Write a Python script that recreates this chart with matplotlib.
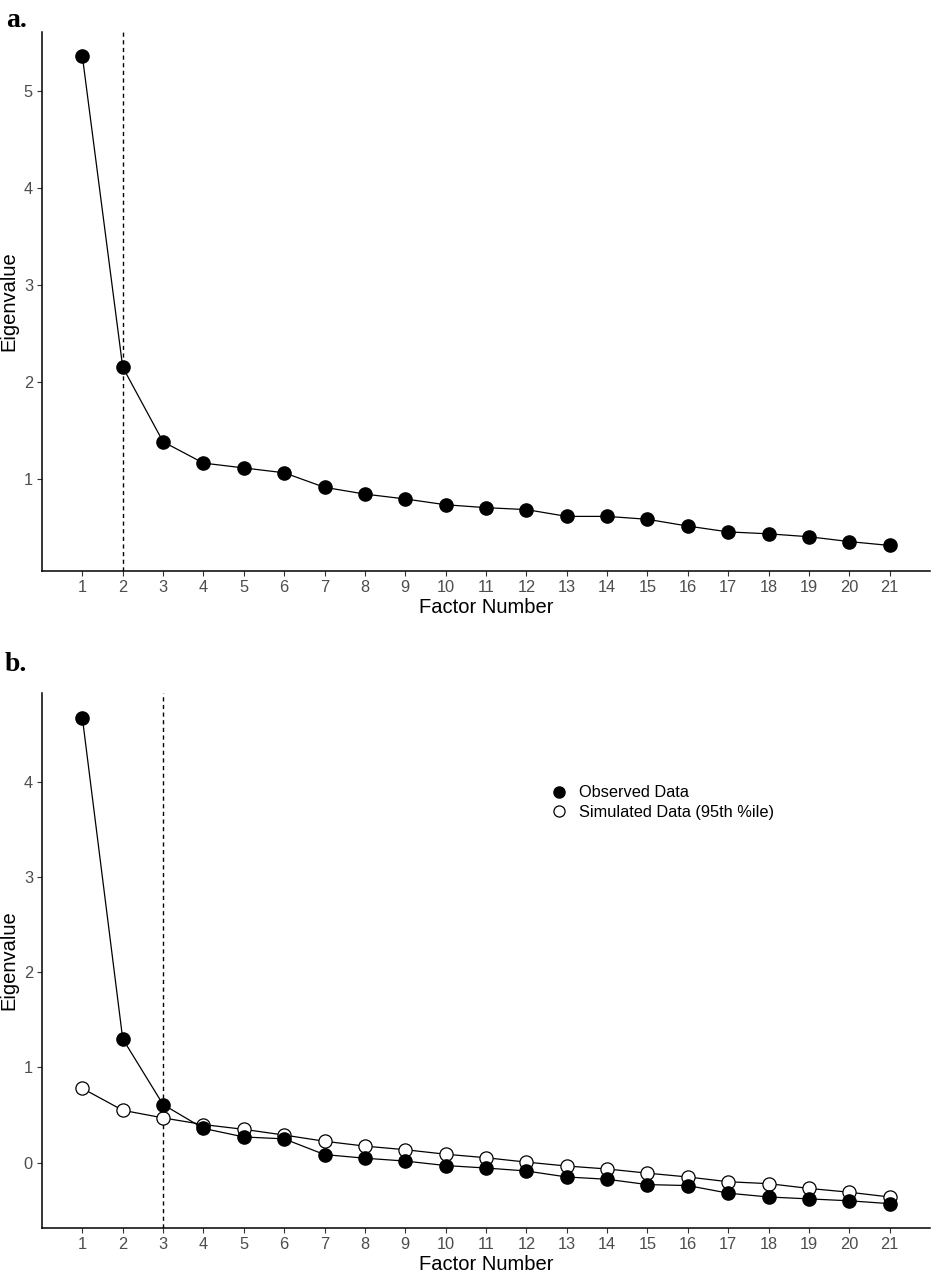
import numpy as np
import matplotlib.pyplot as plt
from matplotlib.lines import Line2D

plt.rcParams['font.family'] = ['Liberation Sans', 'DejaVu Sans']

# ---- data ----
factors = list(range(1, 22))

# panel a: eigenvalues (single series)
eig_a = [5.36, 2.15, 1.38, 1.16, 1.11, 1.06, 0.91, 0.84, 0.79, 0.73, 0.70,
         0.68, 0.61, 0.61, 0.58, 0.51, 0.45, 0.43, 0.40, 0.35, 0.31]
cut_a = 2

# panel b: parallel analysis
observed_b = [4.67, 1.30, 0.61, 0.36, 0.27, 0.25, 0.085, 0.047, 0.017, -0.03,
              -0.056, -0.087, -0.15, -0.174, -0.23, -0.24, -0.32, -0.36, -0.38,
              -0.40, -0.43]
simulated_b = [0.78, 0.55, 0.47, 0.40, 0.35, 0.29, 0.225, 0.174, 0.136, 0.089,
               0.052, 0.006, -0.035, -0.066, -0.11, -0.15, -0.20, -0.22, -0.27,
               -0.31, -0.36]
cut_b = 3

legend_labels = ["Observed Data", "Simulated Data (95th %ile)"]

tick_col = "#4D4D4D"


def style_axes(ax, ylim, yticks):
    ax.set_xlim(0, 22)
    ax.set_ylim(*ylim)
    ax.set_xticks(factors)
    ax.set_yticks(yticks)
    for s in ["top", "right"]:
        ax.spines[s].set_visible(False)
    for s in ["left", "bottom"]:
        ax.spines[s].set_linewidth(1.1)
        ax.spines[s].set_color("black")
    ax.tick_params(axis="both", length=3.5, width=0.8, color="#333333",
                   labelcolor=tick_col, labelsize=11.8, pad=3)
    ax.set_xlabel("Factor Number", fontsize=14.5, labelpad=2)
    ax.set_ylabel("Eigenvalue", fontsize=14.5, labelpad=4)


fig = plt.figure(figsize=(9.35, 12.75), dpi=100)

# ---- panel a ----
ax1 = fig.add_axes([0.0449, 0.5522, 0.9498, 0.4228])
ax1.axvline(cut_a, color="black", lw=1.0, ls=(0, (3, 2.5)))
ax1.plot(factors, eig_a, color="black", lw=0.9, marker="o", ms=9.5,
         mfc="black", mec="black")
style_axes(ax1, (0.047, 5.61), [1, 2, 3, 4, 5])
fig.text(0.007, 0.994, "a.", family="Liberation Serif", weight="bold",
         fontsize=20, va="top", ha="left")

# ---- panel b ----
ax2 = fig.add_axes([0.0449, 0.0369, 0.9498, 0.4196])
ax2.axvline(cut_b, color="black", lw=1.0, ls=(0, (3, 2.5)))
ax2.plot(factors, simulated_b, color="black", lw=0.9, marker="o", ms=9.5,
         mfc="white", mec="black", mew=0.9, zorder=3)
ax2.plot(factors, observed_b, color="black", lw=0.9, marker="o", ms=9.5,
         mfc="black", mec="black", zorder=4)
style_axes(ax2, (-0.685, 4.93), [0, 1, 2, 3, 4])
fig.text(0.005, 0.489, "b.", family="Liberation Serif", weight="bold",
         fontsize=20, va="top", ha="left")

handles = [Line2D([], [], ls="none", marker="o", ms=8, mfc="black", mec="black"),
           Line2D([], [], ls="none", marker="o", ms=8, mfc="white", mec="black",
                  mew=0.9)]
ax2.legend(handles, legend_labels, loc="upper left", frameon=False,
           bbox_to_anchor=(0.555, 0.855), fontsize=11.8, handletextpad=0.6,
           labelspacing=0.3, handlelength=1.2)

fig.savefig("out.png", dpi=100)
